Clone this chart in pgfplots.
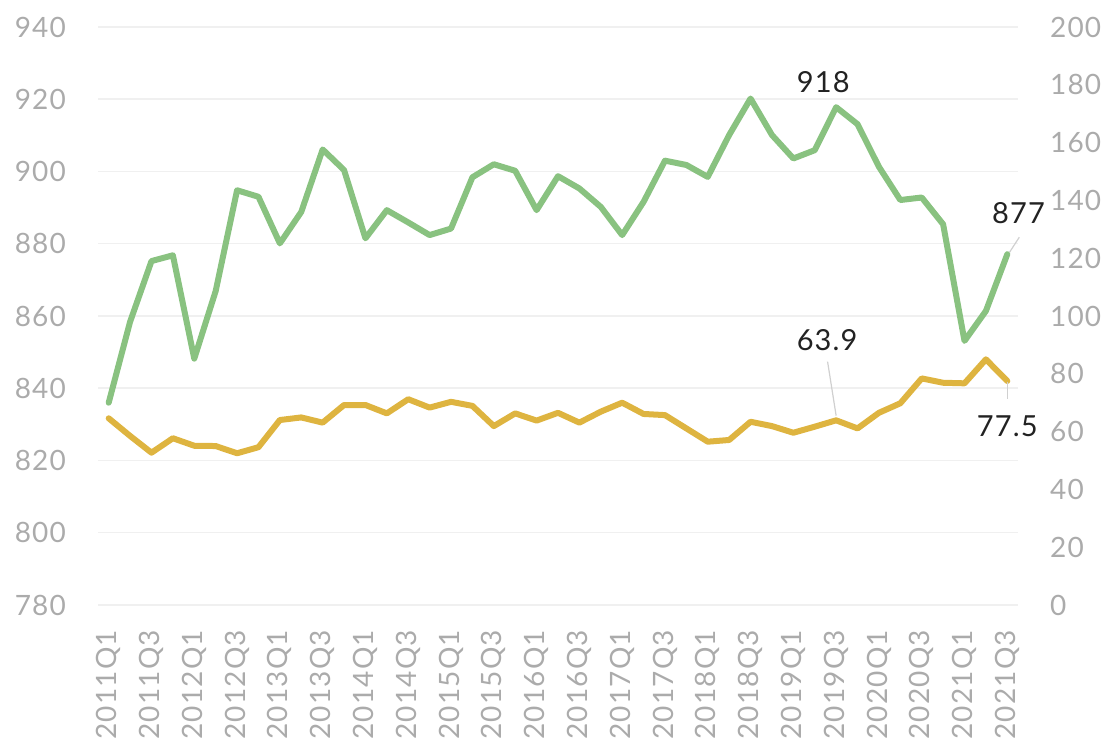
\documentclass[border=0pt]{standalone}
\usepackage{fontspec}
\setmainfont{Lato}[LetterSpace=4]
\usepackage{pgfplots}
\usepackage{pgfplotstable}
\pgfplotsset{compat=1.18}
\definecolor{grn}{HTML}{89C280}
\definecolor{ylw}{HTML}{DEB440}
\definecolor{tk}{HTML}{ABABAB}
\definecolor{grd}{HTML}{F0F0F0}
\definecolor{ann}{HTML}{222222}
\definecolor{lead}{HTML}{D0D0D0}

\pgfplotstableread{
x g
0 836.0
1 858.4
2 875.2
3 876.8
4 848.2
5 866.9
6 894.8
7 893.0
8 880.1
9 888.8
10 906.1
11 900.4
12 881.5
13 889.3
14 885.9
15 882.4
16 884.2
17 898.4
18 902.0
19 900.2
20 889.3
21 898.7
22 895.3
23 890.2
24 882.4
25 891.6
26 903.0
27 901.8
28 898.5
29 910.1
30 920.2
31 910.1
32 903.6
33 905.9
34 917.8
35 913.1
36 901.3
37 892.1
38 892.8
39 885.4
40 853.1
41 861.4
42 877.1
}\greentab

\pgfplotstableread{
x y
0 64.6
1 58.5
2 52.7
3 57.7
4 55.1
5 55.0
6 52.5
7 54.6
8 64.0
9 64.9
10 63.1
11 69.2
12 69.2
13 66.3
14 71.2
15 68.3
16 70.3
17 68.9
18 61.9
19 66.3
20 63.8
21 66.5
22 63.1
23 66.9
24 70.0
25 66.1
26 65.7
27 61.1
28 56.5
29 57.1
30 63.4
31 61.9
32 59.6
33 61.7
34 63.9
35 61.1
36 66.5
37 69.8
38 78.4
39 76.9
40 76.7
41 85.0
42 77.5
}\yellowtab

\pgfplotsset{base/.style={
  width=920pt, height=578pt, scale only axis,
  at={(98pt,138pt)}, anchor=south west,
  xmin=-0.5, xmax=42.5,
  axis line style={draw=none},
  major tick length=0pt, tick style={draw=none},
  ticklabel style={font=\fontsize{28}{30}\selectfont, text=tk},
  /pgf/number format/assume math mode=true,
  clip=false,
}}

\begin{document}
\begin{tikzpicture}
\path[use as bounding box] (0,0) rectangle (1109pt,743pt);
\begin{axis}[base,
  ymin=780, ymax=940, ytick={780,800,...,940},
  ymajorgrids, grid style={grd, line width=1.5pt},
  xtick={0,2,...,42},
  xticklabels={2011Q1,2011Q3,2012Q1,2012Q3,2013Q1,2013Q3,2014Q1,2014Q3,2015Q1,2015Q3,2016Q1,2016Q3,2017Q1,2017Q3,2018Q1,2018Q3,2019Q1,2019Q3,2020Q1,2020Q3,2021Q1,2021Q3},
  xticklabel style={rotate=90, anchor=east, inner sep=0pt},
  xticklabel shift=25pt,
  yticklabel style={anchor=east, inner sep=0pt},
  yticklabel shift=32pt,
]
\addplot[grn, line width=6pt, line join=round, line cap=round] table[x=x,y=g] {\greentab};
\node[text=ann, font=\fontsize{29}{30}\selectfont] at (axis cs:33.4,924.8) {918};
\node[text=ann, font=\fontsize{29}{30}\selectfont] at (axis cs:42.52,888.5) {877};
\draw[lead, line width=1.2pt] (axis cs:42.56,881.8) -- (axis cs:42.1,877.6);
\end{axis}
\begin{axis}[base,
  ymin=0, ymax=200, ytick={0,20,...,200},
  axis x line=none, axis y line*=right,
  yticklabel style={anchor=west, inner sep=0pt},
  yticklabel shift=32pt,
]
\addplot[ylw, line width=6pt, line join=round, line cap=round] table[x=x,y=y] {\yellowtab};
\node[text=ann, font=\fontsize{29}{30}\selectfont] at (axis cs:33.58,91.7) {63.9};
\draw[lead, line width=1.2pt] (axis cs:33.6,84.2) -- (axis cs:34.0,65.5);
\node[text=ann, font=\fontsize{29}{30}\selectfont] at (axis cs:42.0,61.9) {77.5};
\draw[lead, line width=1.2pt] (axis cs:42.0,77.3) -- (axis cs:42.0,71.3);
\end{axis}
\end{tikzpicture}
\end{document}
